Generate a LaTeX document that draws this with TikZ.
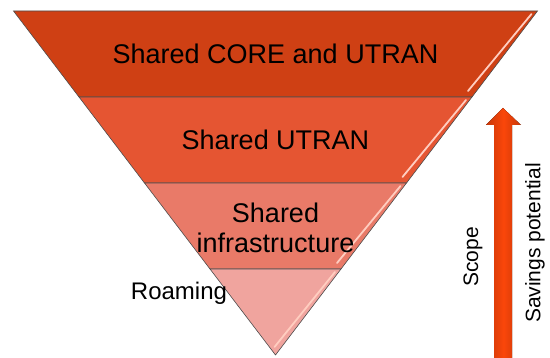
\documentclass[tikz,border=0pt]{standalone}
\usepackage{fontspec}
\setmainfont{Liberation Sans}
\usetikzlibrary{calc}

\definecolor{coreband}{RGB}{207,64,20}
\definecolor{utranband}{RGB}{229,85,50}
\definecolor{infraband}{RGB}{233,122,104}
\definecolor{roamband}{RGB}{240,164,158}
\definecolor{scopearrow}{RGB}{250,70,10}
\definecolor{bevelpink}{RGB}{255,205,192}

\begin{document}
\begin{tikzpicture}[x=1pt,y=1pt,
    band/.style={draw=black!70,line width=0.6},
    bevel/.style={bevelpink,line width=1.8,line cap=round},
    bandtext/.style={align=center,font=\fontsize{27}{30}\selectfont},
    sidetext/.style={font=\fontsize{21}{24}\selectfont,rotate=90}]
  \useasboundingbox (0,0) rectangle (550,358);

  % corners of the funnel
  \coordinate (apex) at (275.5,3);
  \coordinate (tl) at (13.5,347);
  \coordinate (tr) at (537.5,347);
  \coordinate (l1) at ($(apex)!0.75!(tl)$);
  \coordinate (r1) at ($(apex)!0.75!(tr)$);
  \coordinate (l2) at ($(apex)!0.5!(tl)$);
  \coordinate (r2) at ($(apex)!0.5!(tr)$);
  \coordinate (l3) at ($(apex)!0.25!(tl)$);
  \coordinate (r3) at ($(apex)!0.25!(tr)$);

  % bands
  \filldraw[band,fill=coreband] (tl) -- (tr) -- (r1) -- (l1) -- cycle;
  \filldraw[band,fill=utranband] (l1) -- (r1) -- (r2) -- (l2) -- cycle;
  \filldraw[band,fill=infraband] (l2) -- (r2) -- (r3) -- (l3) -- cycle;
  \filldraw[band,fill=roamband] (l3) -- (r3) -- (apex) -- cycle;

  % light bevels on the right edges
  \draw[bevel] ($(tr)+(-6,-3)$) -- ($(r1)+(-4,6)$);
  \draw[bevel] ($(r1)+(-6,-3)$) -- ($(r2)+(-4,6)$);
  \draw[bevel] ($(r2)+(-6,-3)$) -- ($(r3)+(-4,6)$);
  \draw[bevel] ($(r3)+(-6,-3)$) -- ($(apex)+(-1,8)$);

  % band labels
  \node[bandtext] (core) at (275.5,304) {Shared CORE and UTRAN};
  \node[bandtext] (utran) at (275.5,218) {Shared UTRAN};
  \node[bandtext] (infra) at (275.5,130) {Shared\\infrastructure};
  \node[font=\fontsize{24}{28}\selectfont] (roam) at (179,65) {Roaming};

  % scope arrow
  \fill[left color=scopearrow!80!black,right color=scopearrow!80!black,
        middle color=scopearrow]
    (494,0) -- (494,233) -- (486,233) -- (503,250) -- (521,233)
    -- (512,233) -- (512,0) -- cycle;
  \node[sidetext] (scope) at (473,101) {Scope};
  \node[sidetext] (savings) at (535,115) {Savings potential};
\end{tikzpicture}
\end{document}
